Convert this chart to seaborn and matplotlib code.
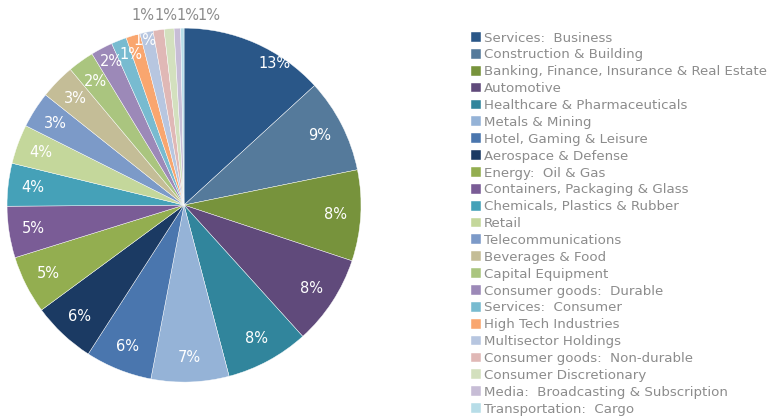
# -*- Coding: utf-8 -*-
# Pie chart of sectors, Excel-like style

# %%
# * 1. Import packages
import matplotlib
matplotlib.use("Agg")
import matplotlib.pyplot as plt
import seaborn as sns

# %%
# * 2. Data
sectors = [
    "Services:  Business",
    "Construction & Building",
    "Banking, Finance, Insurance & Real Estate",
    "Automotive",
    "Healthcare & Pharmaceuticals",
    "Metals & Mining",
    "Hotel, Gaming & Leisure",
    "Aerospace & Defense",
    "Energy:  Oil & Gas",
    "Containers, Packaging & Glass",
    "Chemicals, Plastics & Rubber",
    "Retail",
    "Telecommunications",
    "Beverages & Food",
    "Capital Equipment",
    "Consumer goods:  Durable",
    "Services:  Consumer",
    "High Tech Industries",
    "Multisector Holdings",
    "Consumer goods:  Non-durable",
    "Consumer Discretionary",
    "Media:  Broadcasting & Subscription",
    "Transportation:  Cargo",
]
shares = [13.2, 8.6, 8.3, 8.2, 7.6, 7.1, 6.1, 5.8, 5.3, 4.7, 3.9, 3.6,
          3.3, 3.2, 2.4, 2.0, 1.4, 1.3, 1.2, 1.0, 0.9, 0.6, 0.3]
colors = [
    "#2A5788", "#557A9B", "#77933C", "#604A7B", "#31859C", "#95B3D7",
    "#4A76AE", "#1B3A63", "#93AE50", "#7A5C96", "#45A1B8", "#C4D79B",
    "#7C9AC8", "#C4BD97", "#AAC57F", "#9C89B8", "#78BBD0", "#F9A66F",
    "#B7C6E0", "#E0B8B6", "#D3E0BE", "#C7BDD6", "#B7DDE8",
]

# %%
# * 3. Plot
sns.set_theme(style="white")
plt.rcParams["font.family"] = ["DejaVu Sans"]
palette = sns.color_palette(colors)

fig = plt.figure(figsize=(7.69, 4.16), dpi=100)
ax = fig.add_axes([-0.0139, 0.039, 0.5064, 0.936])

wedges, texts, autotexts = ax.pie(
    shares,
    colors=palette,
    startangle=90,
    counterclock=False,
    autopct=lambda p: f"{p:.0f}%" if p >= 0.5 else "",
    pctdistance=0.86,
    wedgeprops={"edgecolor": "white", "linewidth": 0.3},
    textprops={"color": "white", "fontsize": 10.5},
)
ax.set_xlim(-1.1, 1.1)
ax.set_ylim(-1.1, 1.1)
ax.set_aspect("equal")

# Excel nudges a few labels; mimic that
autotexts[0].set_position((0.51, 0.80))
autotexts[15].set_position((-0.41, 0.81))
autotexts[16].set_position((-0.30, 0.85))
autotexts[17].set_position((-0.22, 0.93))
outside_x = [-0.23, -0.10, 0.02, 0.14]
for t, x in zip(autotexts[18:22], outside_x):
    t.set_position((x, 1.07))
    t.set_color("#8C8C8C")

fig.legend(
    wedges,
    sectors,
    loc="upper left",
    bbox_to_anchor=(0.6125, 0.924),
    frameon=False,
    fontsize=9.6,
    labelcolor="#8C8C8C",
    handlelength=0.75,
    handleheight=0.75,
    handletextpad=0.2,
    labelspacing=0.29,
    borderaxespad=0,
    borderpad=0,
)

fig.savefig("out.png", dpi=100)
